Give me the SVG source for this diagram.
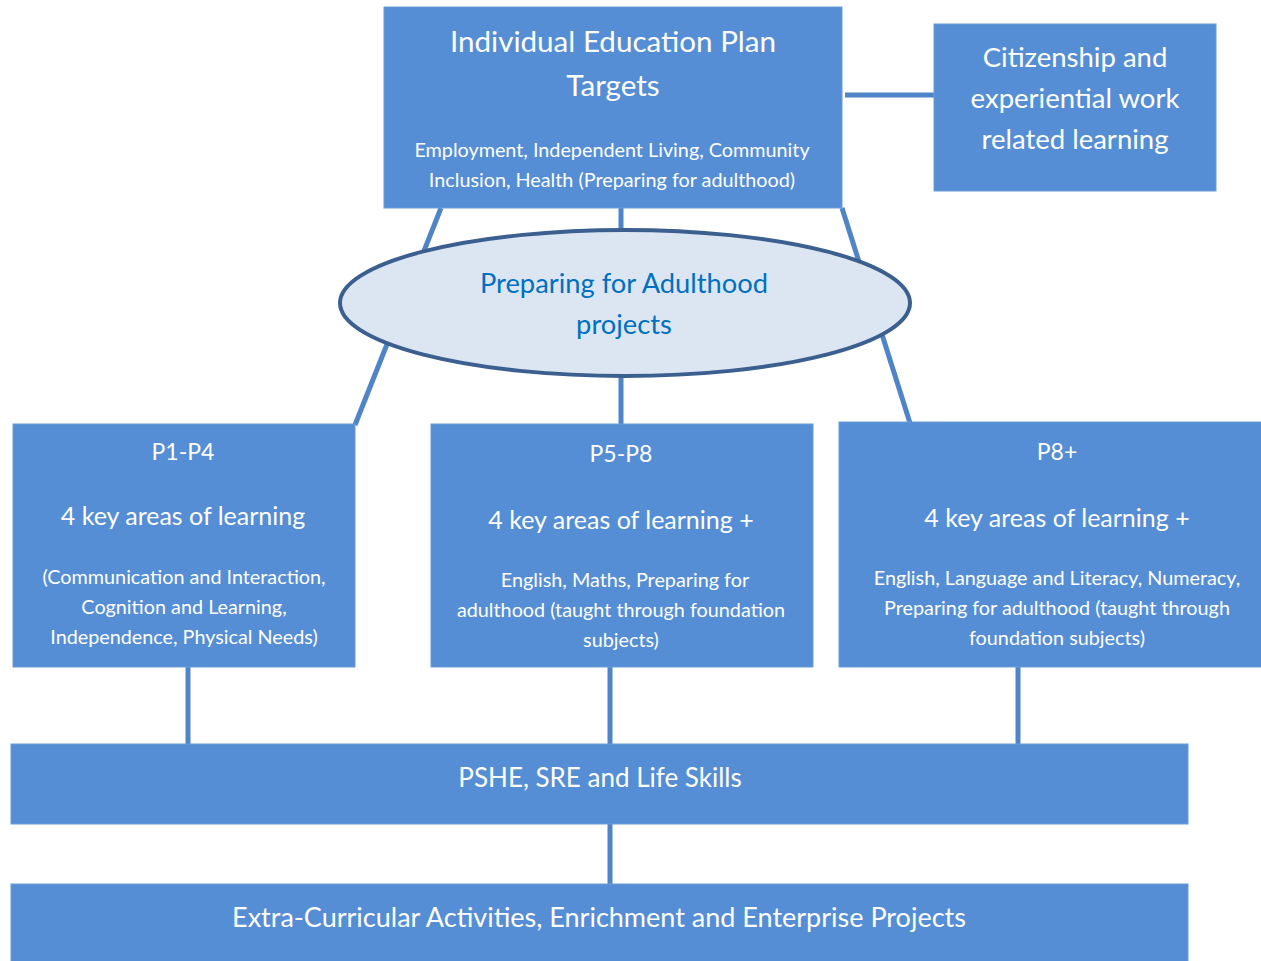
<svg xmlns="http://www.w3.org/2000/svg" width="1261" height="961" viewBox="0 0 1261 961">
<style>
.box{fill:#558ED5;stroke:#6A9BDA;stroke-width:1}
.t{font-family:Lato,"Open Sans","Liberation Sans",sans-serif;fill:#FFFFFF;text-anchor:middle;dominant-baseline:central}
.s{font-size:19.8px}
.conn{stroke:#4F85C8;stroke-width:5;fill:none}
.pa{font-family:Lato,"Open Sans","Liberation Sans",sans-serif;fill:#0070C0;text-anchor:middle;dominant-baseline:central;font-size:27.3px}
</style>
<rect width="1261" height="961" fill="#FFFFFF"/>
<g id="connectors">
<line class="conn" x1="845" y1="95" x2="935" y2="95"/>
<line class="conn" x1="441" y1="208" x2="355" y2="425"/>
<line class="conn" x1="621" y1="208" x2="621" y2="425"/>
<line class="conn" x1="842" y1="208" x2="910" y2="423"/>
<line class="conn" x1="188" y1="667" x2="188" y2="745"/>
<line class="conn" x1="610" y1="667" x2="610" y2="745"/>
<line class="conn" x1="1018" y1="667" x2="1018" y2="745"/>
<line class="conn" x1="610" y1="824" x2="610" y2="885"/>
</g>
<g id="iep">
<rect class="box" x="384" y="7" width="458" height="201"/>
<text class="t" x="613" y="40.5" font-size="29.6">Individual Education Plan</text>
<text class="t" x="613" y="84.5" font-size="29.6">Targets</text>
<text class="t s" x="612" y="149">Employment, Independent Living, Community</text>
<text class="t s" x="612" y="179">Inclusion, Health (Preparing for adulthood)</text>
</g>
<g id="citizenship">
<rect class="box" x="934" y="24" width="282" height="167"/>
<text class="t" x="1075" y="56" font-size="27.5">Citizenship and</text>
<text class="t" x="1075" y="97" font-size="27.5">experiential work</text>
<text class="t" x="1075" y="138" font-size="27.5">related learning</text>
</g>
<g id="pfa">
<ellipse cx="625" cy="303" rx="285" ry="73" fill="#DCE6F2" stroke="#3B5F8F" stroke-width="4"/>
<text class="pa" x="624" y="282">Preparing for Adulthood</text>
<text class="pa" x="624" y="323">projects</text>
</g>
<g id="p1p4">
<rect class="box" x="13" y="424" width="342" height="243"/>
<text class="t" x="183" y="451" font-size="23">P1-P4</text>
<text class="t" x="183" y="515" font-size="25">4 key areas of learning</text>
<text class="t s" x="184" y="576">(Communication and Interaction,</text>
<text class="t s" x="184" y="606">Cognition and Learning,</text>
<text class="t s" x="184" y="636">Independence, Physical Needs)</text>
</g>
<g id="p5p8">
<rect class="box" x="431" y="424" width="382" height="243"/>
<text class="t" x="621" y="453" font-size="23">P5-P8</text>
<text class="t" x="621" y="519" font-size="25">4 key areas of learning +</text>
<text class="t s" x="625" y="579">English, Maths, Preparing for</text>
<text class="t s" x="621" y="609">adulthood (taught through foundation</text>
<text class="t s" x="621" y="639">subjects)</text>
</g>
<g id="p8plus">
<rect class="box" x="839" y="422" width="430" height="245"/>
<text class="t" x="1057" y="451" font-size="23">P8+</text>
<text class="t" x="1057" y="517" font-size="25">4 key areas of learning +</text>
<text class="t s" x="1057" y="577">English, Language and Literacy, Numeracy,</text>
<text class="t s" x="1057" y="607">Preparing for adulthood (taught through</text>
<text class="t s" x="1057" y="637">foundation subjects)</text>
</g>
<g id="pshe">
<rect class="box" x="11" y="744" width="1177" height="80"/>
<text class="t" x="600" y="777" font-size="26">PSHE, SRE and Life Skills</text>
</g>
<g id="extra">
<rect class="box" x="11" y="884" width="1177" height="90"/>
<text class="t" x="599" y="916" font-size="27">Extra-Curricular Activities, Enrichment and Enterprise Projects</text>
</g>
</svg>
